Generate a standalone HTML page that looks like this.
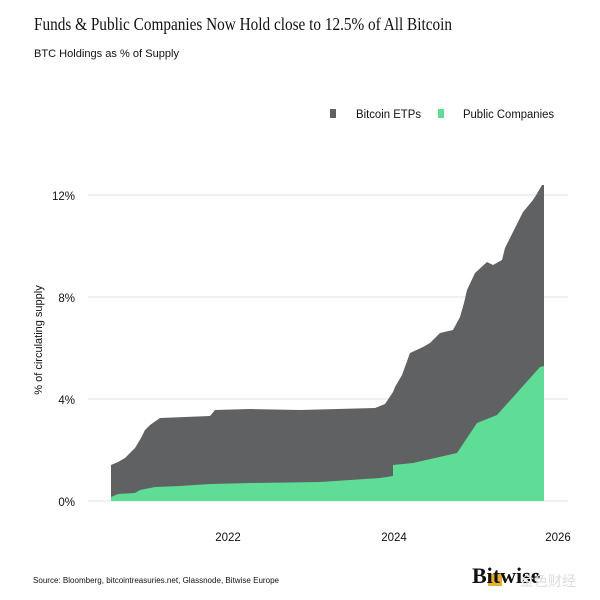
<!DOCTYPE html><html><head><style>body{margin:0;background:#fff}svg{display:block}text{font-family:"Liberation Sans",sans-serif}</style></head><body>
<svg width="600" height="600" xmlns="http://www.w3.org/2000/svg">
<text x="34" y="30" style="font-family:'Liberation Serif',serif" font-size="18" fill="#111" textLength="418" lengthAdjust="spacingAndGlyphs">Funds &amp; Public Companies Now Hold close to 12.5% of All Bitcoin</text>
<text x="34" y="57" font-size="11" fill="#111" textLength="145" lengthAdjust="spacingAndGlyphs">BTC Holdings as % of Supply</text>
<rect x="330" y="109" width="6" height="9" fill="#5f6162"/>
<text x="356" y="118" font-size="11.5" fill="#111" textLength="65" lengthAdjust="spacingAndGlyphs">Bitcoin ETPs</text>
<rect x="438" y="109" width="6" height="9" fill="#5fdc96"/>
<text x="463" y="118" font-size="11.5" fill="#111" textLength="91" lengthAdjust="spacingAndGlyphs">Public Companies</text>
<g stroke="#e2e2e2" stroke-width="1">
<line x1="88" y1="195" x2="568" y2="195"/><line x1="88" y1="297" x2="568" y2="297"/><line x1="88" y1="399" x2="568" y2="399"/><line x1="88" y1="501" x2="568" y2="501"/>
</g>
<g font-size="11.5" fill="#111" text-anchor="end">
<text x="75" y="200">12%</text><text x="75" y="302">8%</text><text x="75" y="404">4%</text><text x="75" y="506">0%</text>
</g>
<g font-size="11.5" fill="#111" text-anchor="middle">
<text x="228" y="541">2022</text><text x="394" y="541">2024</text><text x="558" y="541">2026</text>
</g>
<text transform="translate(42,340) rotate(-90)" font-size="11" fill="#111" text-anchor="middle">% of circulating supply</text>
<polygon fill="#5f6162" points="111,501 111,465 118,462 125,458 135,448 141,438 145,430 150,425 160,418 210,416 215,410 250,409 300,410 375,408 385,404 393,392 395,387 402,375 410,353 423,347 430,343 440,333 453,330 460,317 464,303 467,290 475,273 487,262 493,265 502,260 505,248 515,228 523,212 533,200 538,192 542,185 544,185 544,501"/>
<polygon fill="#5fdc96" points="111,501 111,497 118,494 135,493 140,490 155,487 180,486 210,484 250,483 320,482 350,480 380,478 393,476 393,465 413,463 457,453 477,423 497,415 540,367 544,366 544,501"/>
<text x="33" y="583" font-size="8" fill="#111" textLength="246" lengthAdjust="spacingAndGlyphs">Source: Bloomberg, bitcointreasuries.net, Glassnode, Bitwise Europe</text>
<rect x="488" y="574" width="14" height="12" fill="#e8b030"/>
<text x="472" y="583" style="font-family:'Liberation Serif',serif" font-size="22" font-weight="bold" fill="#111">Bitwise</text>
<text x="520" y="586" font-size="14" fill="#ddd" style="font-family:'Liberation Sans','Noto Sans CJK SC',sans-serif">金色财经</text>
</svg></body></html>
